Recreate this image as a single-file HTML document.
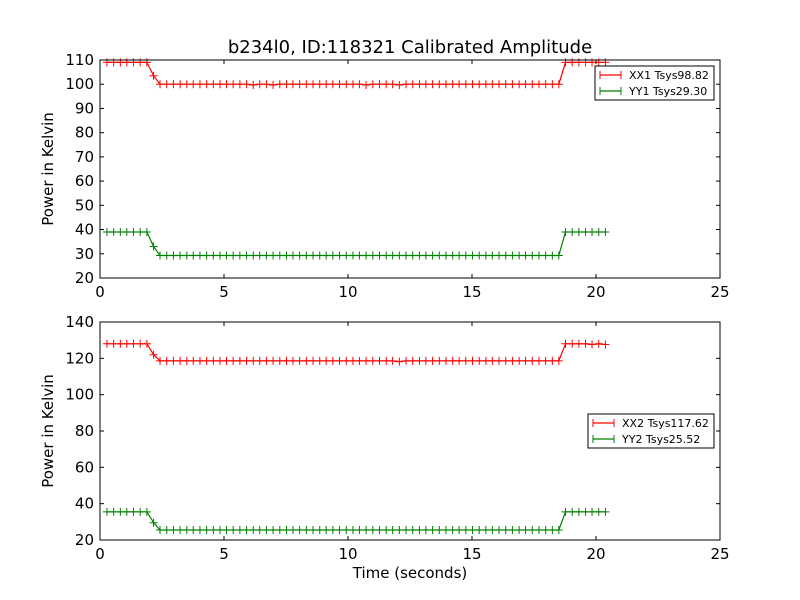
<!DOCTYPE html>
<html><head><meta charset="utf-8"><style>
body{margin:0;background:#fff;}
svg{display:block;font-family:"DejaVu Sans","Liberation Sans",sans-serif;}
</style></head><body>
<svg id="c" width="800" height="600" viewBox="0 0 800 600">
<rect width="800" height="600" fill="#fff"/>
<text x="410" y="53" font-size="18" text-anchor="middle">b234l0, ID:118321 Calibrated Amplitude</text>
<text x="410" y="578" font-size="15" text-anchor="middle">Time (seconds)</text>
</svg>
<script>
const times=[0.28,0.55,0.82,1.08,1.35,1.62,1.89,2.16,2.42,2.69,2.96,3.23,3.50,3.76,4.03,4.30,4.57,4.84,5.10,5.37,5.64,5.91,6.18,6.44,6.71,6.98,7.25,7.52,7.78,8.05,8.32,8.59,8.86,9.12,9.39,9.66,9.93,10.20,10.46,10.73,11.00,11.27,11.54,11.80,12.07,12.34,12.61,12.88,13.14,13.41,13.68,13.95,14.22,14.48,14.75,15.02,15.29,15.56,15.82,16.09,16.36,16.63,16.90,17.16,17.43,17.70,17.97,18.24,18.50,18.77,19.04,19.31,19.58,19.84,20.11,20.38];
const xx1=[109,109,109,109,109,109,109,103.5,100,100,100,100,100,100,100,100,100,100,100,100,100,100,99.7,100,100,99.7,100,100,100,100,100,100,100,100,100,100,100,100,100,99.7,100,100,100,100,99.7,100,100,100,100,100,100,100,100,100,100,100,100,100,100,100,100,100,100,100,100,100,100,100,100,109,109,109,109,109,109,109];
const yy1=[39,39,39,39,39,39,39,33,29.3,29.3,29.3,29.3,29.3,29.3,29.3,29.3,29.3,29.3,29.3,29.3,29.3,29.3,29.3,29.3,29.3,29.3,29.3,29.3,29.3,29.3,29.3,29.3,29.3,29.3,29.3,29.3,29.3,29.3,29.3,29.3,29.3,29.3,29.3,29.3,29.3,29.3,29.3,29.3,29.3,29.3,29.3,29.3,29.3,29.3,29.3,29.3,29.3,29.3,29.3,29.3,29.3,29.3,29.3,29.3,29.3,29.3,29.3,29.3,29.3,39,39,39,39,39,39,39];
const xx2=[128,128,128,128,128,128,128,122,118.6,118.6,118.6,118.6,118.6,118.6,118.6,118.6,118.6,118.6,118.6,118.6,118.6,118.6,118.6,118.6,118.6,118.6,118.6,118.6,118.6,118.6,118.6,118.6,118.6,118.6,118.6,118.6,118.6,118.6,118.6,118.6,118.6,118.6,118.6,118.6,118.2,118.6,118.6,118.6,118.6,118.6,118.6,118.6,118.6,118.6,118.6,118.6,118.6,118.6,118.6,118.6,118.6,118.6,118.6,118.6,118.6,118.6,118.6,118.6,118.6,128,128,128,128,127.6,128,127.6];
const yy2=[35.5,35.5,35.5,35.5,35.5,35.5,35.5,29.5,25.5,25.5,25.5,25.5,25.5,25.5,25.5,25.5,25.5,25.5,25.5,25.5,25.5,25.5,25.5,25.5,25.5,25.5,25.5,25.5,25.5,25.5,25.5,25.5,25.5,25.5,25.5,25.5,25.5,25.5,25.5,25.5,25.5,25.5,25.5,25.5,25.5,25.5,25.5,25.5,25.5,25.5,25.5,25.5,25.5,25.5,25.5,25.5,25.5,25.5,25.5,25.5,25.5,25.5,25.5,25.5,25.5,25.5,25.5,25.5,25.5,35.5,35.5,35.5,35.5,35.5,35.5,35.5];
const xTicks=[0,5,10,15,20,25];
const yTicksTop=[20,30,40,50,60,70,80,90,100,110];
const yTicksBot=[20,40,60,80,100,120,140];
const legendTop=["XX1 Tsys98.82","YY1 Tsys29.30"];
const legendBot=["XX2 Tsys117.62","YY2 Tsys25.52"];

const NS="http://www.w3.org/2000/svg";
const svg=document.getElementById('c');
function mk(tag,attrs,parent){const e=document.createElementNS(NS,tag);for(const k in attrs)e.setAttribute(k,attrs[k]);(parent||svg).appendChild(e);return e;}

function panel(name,top,bottom,ymin,ymax,yt,series,colors,legend,legBox){
  const L=100,R=720;
  const g=mk('g',{});
  
  
  const sx=v=>L+(v-0)/(25-0)*(R-L);
  const sy=v=>bottom-(v-ymin)/(ymax-ymin)*(bottom-top);
  series.forEach((arr,si)=>{
    const s=mk('g',{},g);
    
    
    const pts=arr.map((v,i)=>sx(times[i]).toFixed(1)+','+sy(v).toFixed(1)).join(' ');
    mk('polyline',{points:pts,fill:'none',stroke:colors[si],'stroke-width':1.2},s);
    let d='';
    arr.forEach((v,i)=>{const x=sx(times[i]),y=sy(v);d+=`M${x-4},${y}h8M${x},${y-4}v8`;});
    mk('path',{d:d,stroke:colors[si],'stroke-width':1,fill:'none'},s);
  });
  mk('rect',{x:L,y:top,width:R-L,height:bottom-top,fill:'none',stroke:'#000','stroke-width':1});
  xTicks.forEach(v=>{
    const x=sx(v);
    mk('line',{x1:x,y1:bottom,x2:x,y2:bottom-4,stroke:'#000'});
    mk('line',{x1:x,y1:top,x2:x,y2:top+4,stroke:'#000'});
    const t=mk('text',{x:x,y:bottom+19,'font-size':15,'text-anchor':'middle'});
    t.textContent=v;
    
    
  });
  yt.forEach(v=>{
    const y=sy(v);
    mk('line',{x1:L,y1:y,x2:L+4,y2:y,stroke:'#000'});
    mk('line',{x1:R,y1:y,x2:R-4,y2:y,stroke:'#000'});
    const t=mk('text',{x:L-6,y:y+5,'font-size':15,'text-anchor':'end'});
    t.textContent=v;
    
    
  });
  const yl=mk('text',{x:0,y:0,'font-size':15,'text-anchor':'middle',transform:`translate(53,${(top+bottom)/2}) rotate(-90)`});
  yl.textContent='Power in Kelvin';
  
  
  const lg=mk('g',{});
  
  
  mk('rect',{x:legBox[0],y:legBox[1],width:legBox[2],height:34,fill:'#fff',stroke:'#000','stroke-width':1},lg);
  legend.forEach((txt,i)=>{
    const y=legBox[1]+9+i*16;
    const x0=legBox[0]+5;
    mk('line',{x1:x0,y1:y,x2:x0+21,y2:y,stroke:colors[i],'stroke-width':1.2},lg);
    mk('path',{d:`M${x0},${y-4}v8M${x0+21},${y-4}v8`,stroke:colors[i]},lg);
    const t=mk('text',{x:x0+29,y:y+4,'font-size':11},lg);
    t.textContent=txt;
    
    
  });
}
panel('top-panel',60,278,20,110,yTicksTop,[xx1,yy1],['#ff0000','#008000'],legendTop,[595,66,119]);
panel('bottom-panel',322,540,20,140,yTicksBot,[xx2,yy2],['#ff0000','#008000'],legendBot,[588,414,126]);
</script>
</body></html>
